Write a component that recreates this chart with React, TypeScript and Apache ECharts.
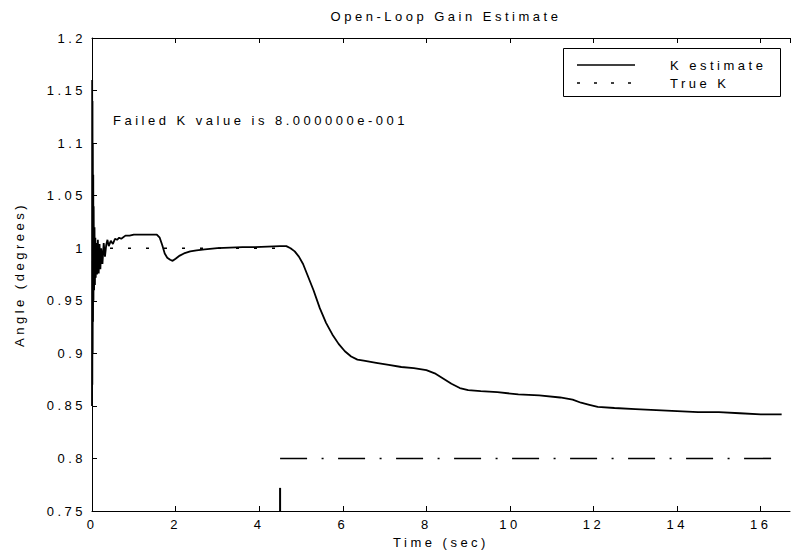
import React, { useEffect, useRef } from "react";
import * as echarts from "echarts";

const chartTitle = "Open-Loop Gain Estimate";
const xAxisName = "Time (sec)";
const yAxisName = "Angle (degrees)";
const noteText = "Failed K value is 8.000000e-001";
const legendNames = ["K estimate", "True K"];

const kTime = [
  0, 0.004, 0.008, 0.012, 0.016, 0.02, 0.025, 0.03, 0.035, 0.04, 0.05, 0.06, 0.07, 0.08, 0.09, 0.1,
  0.12, 0.14, 0.16, 0.18, 0.2, 0.22, 0.25, 0.28, 0.31, 0.34, 0.37, 0.4, 0.45, 0.5, 0.55, 0.6, 0.65,
  0.7, 0.8, 0.9, 1.0, 1.2, 1.4, 1.55, 1.62, 1.68, 1.74, 1.8, 1.87, 1.93, 2.0, 2.1, 2.2, 2.35, 2.5,
  2.7, 3.0, 3.3, 3.6, 3.9, 4.2, 4.5, 4.65, 4.75, 4.85, 4.95, 5.05, 5.15, 5.3, 5.45, 5.6, 5.75, 5.9,
  6.05, 6.2, 6.35, 6.5, 6.8, 7.1, 7.4, 7.7, 8.0, 8.2, 8.4, 8.6, 8.8, 9.0, 9.3, 9.7, 10.2, 10.7,
  11.2, 11.5, 11.7, 11.9, 12.1, 12.5, 13.0, 13.5, 14.0, 14.5, 15.0, 15.5, 16.0, 16.5,
];
const kValue = [
  0.85, 1.16, 0.87, 1.14, 0.9, 1.1, 0.93, 1.07, 0.95, 1.04, 0.96, 1.02, 0.965, 1.01, 0.972, 1.005,
  0.975, 1.008, 0.976, 1.004, 0.98, 1.0, 0.985, 1.005, 0.992, 1.003, 1.008, 1.002, 1.007, 1.004,
  1.009, 1.008, 1.01, 1.009, 1.012, 1.012, 1.013, 1.013, 1.013, 1.013, 1.01, 1.003, 0.995, 0.991,
  0.989, 0.988, 0.99, 0.993, 0.995, 0.997, 0.998, 0.999, 1.0, 1.0005, 1.001, 1.001, 1.0015, 1.002,
  1.002, 1.0, 0.997, 0.992, 0.985, 0.975, 0.96, 0.943, 0.929, 0.918, 0.909, 0.902, 0.897, 0.894,
  0.893, 0.891, 0.889, 0.887, 0.886, 0.884, 0.881, 0.876, 0.871, 0.867, 0.865, 0.864, 0.863,
  0.861, 0.86, 0.858, 0.856, 0.853, 0.851, 0.849, 0.848, 0.847, 0.846, 0.845, 0.844, 0.844,
  0.843, 0.842, 0.842,
];
const trueKTime = [0, 4.5];
const trueKValue = [1, 1];
const failedKTime = [4.5, 16.5];
const failedKValue = [0.8, 0.8];
const failMarkTime = [4.5, 4.5];
const failMarkValue = [0.75, 0.772];

const xMin = 0;
const xMax = 16.7;
const xStep = 2;
const yMin = 0.75;
const yMax = 1.2;
const yStep = 0.05;

const zip = (xs: number[], ys: number[]) => xs.map((x, i) => [x, ys[i]]);

const FONT = "'Liberation Sans', Arial, Helvetica, sans-serif";
const BLACK = "#000";

export default function App() {
  const ref = useRef<HTMLDivElement>(null);
  useEffect(() => {
    document.body.style.margin = "0";
    const chart = echarts.init(ref.current!, null, { renderer: "svg" });
    const axisCommon = {
      axisLine: { show: true, lineStyle: { color: BLACK, width: 1 } },
      axisTick: { show: true, inside: true, length: 5, lineStyle: { color: BLACK, width: 1 } },
      splitLine: { show: false },
    };
    chart.setOption({
      animation: false,
      backgroundColor: "#fff",
      textStyle: { fontFamily: FONT, color: BLACK },
      title: {
        text: chartTitle,
        left: 441,
        textAlign: "center",
        top: 5,
        textStyle: { fontFamily: FONT, fontSize: 13, fontWeight: "normal", color: BLACK },
      },
      grid: {
        left: 92,
        top: 38,
        right: 1,
        bottom: 47,
        containLabel: false,
        outerBoundsMode: "none",
      },
      xAxis: [
        {
          type: "value",
          min: xMin,
          max: xMax,
          interval: xStep,
          position: "bottom",
          ...axisCommon,
          axisLabel: {
            color: BLACK,
            fontSize: 13,
            fontFamily: FONT,
            margin: 7,
            showMaxLabel: false,
          },
          name: xAxisName,
          nameLocation: "middle",
          nameGap: 25,
          nameTextStyle: { color: BLACK, fontSize: 13, fontFamily: FONT },
        },
        {
          type: "value",
          min: xMin,
          max: xMax,
          interval: xStep,
          position: "top",
          ...axisCommon,
          axisLabel: { show: false },
        },
      ],
      yAxis: [
        {
          type: "value",
          min: yMin,
          max: yMax,
          interval: yStep,
          position: "left",
          ...axisCommon,
          axisLabel: { color: BLACK, fontSize: 13, fontFamily: FONT, margin: 6 },
          name: yAxisName,
          nameLocation: "middle",
          nameGap: 66,
          nameTextStyle: { color: BLACK, fontSize: 13, fontFamily: FONT },
        },
      ],
      series: [
        {
          name: legendNames[1],
          type: "line",
          data: zip(trueKTime, trueKValue),
          symbol: "none",
          lineStyle: { color: BLACK, width: 1.6, type: [3, 15] },
        },
        {
          name: "Failed K",
          type: "line",
          data: zip(failedKTime, failedKValue),
          symbol: "none",
          lineStyle: { color: BLACK, width: 1.6, type: [27, 14.5, 2, 14.5] },
        },
        {
          name: "Failure",
          type: "line",
          data: zip(failMarkTime, failMarkValue),
          symbol: "none",
          lineStyle: { color: BLACK, width: 2 },
        },
        {
          name: legendNames[0],
          type: "line",
          data: zip(kTime, kValue),
          symbol: "none",
          lineStyle: { color: BLACK, width: 1.8 },
        },
      ],
      graphic: [
        {
          type: "text",
          left: 113,
          top: 114,
          style: { text: noteText, fill: BLACK, font: `13px ${FONT}` },
        },
        {
          type: "rect",
          shape: { x: 563.5, y: 48.5, width: 217, height: 48 },
          style: { fill: "#fff", stroke: BLACK, lineWidth: 1 },
        },
        {
          type: "line",
          shape: { x1: 577, y1: 65, x2: 635, y2: 65 },
          style: { stroke: BLACK, lineWidth: 1.5 },
        },
        {
          type: "line",
          shape: { x1: 577, y1: 83, x2: 635, y2: 83 },
          style: { stroke: BLACK, lineWidth: 1.5, lineDash: [3, 14] },
        },
        {
          type: "text",
          x: 670,
          y: 65,
          style: { text: legendNames[0], fill: BLACK, font: `13px ${FONT}`, verticalAlign: "middle" },
        },
        {
          type: "text",
          x: 670,
          y: 83,
          style: { text: legendNames[1], fill: BLACK, font: `13px ${FONT}`, verticalAlign: "middle" },
        },
      ],
    });
    return () => chart.dispose();
  }, []);
  return (
    <div>
      <style>{`#kchart text { letter-spacing: 3.5px; }`}</style>
      <div
        id="kchart"
        ref={ref}
        style={{ position: "absolute", left: 0, top: 0, width: 791, height: 558, background: "#fff" }}
      />
    </div>
  );
}
